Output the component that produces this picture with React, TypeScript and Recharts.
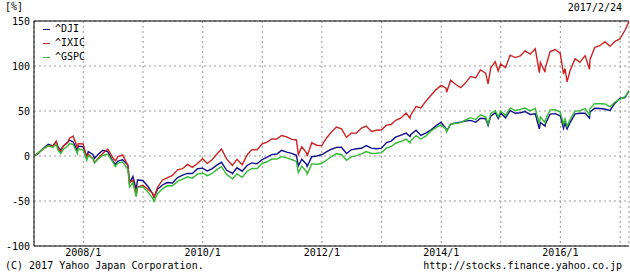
import React from 'react';
import { LineChart, Line, XAxis, YAxis, CartesianGrid, ReferenceLine } from 'recharts';

const dates = [
  '2007-03-05','2007-03-30','2007-04-30','2007-05-31','2007-06-29','2007-07-19','2007-07-31','2007-08-16','2007-08-31','2007-09-28',
  '2007-10-09','2007-10-31','2007-11-26','2007-11-30','2007-12-31','2008-01-22','2008-01-31','2008-02-29','2008-03-10','2008-03-31',
  '2008-04-30','2008-05-30','2008-06-30','2008-07-15','2008-07-31','2008-08-29','2008-09-30','2008-10-10','2008-10-31','2008-11-20',
  '2008-11-28','2008-12-31','2009-01-30','2009-02-27','2009-03-09','2009-03-31','2009-04-30','2009-05-29','2009-06-30','2009-07-31',
  '2009-08-31','2009-09-30','2009-10-30','2009-11-30','2009-12-31','2010-01-29','2010-02-26','2010-03-31','2010-04-26','2010-05-28',
  '2010-06-30','2010-07-02','2010-07-30','2010-08-31','2010-09-30','2010-10-29','2010-11-30','2010-12-31','2011-01-31','2011-02-28',
  '2011-03-31','2011-04-29','2011-05-31','2011-06-30','2011-07-29','2011-08-10','2011-08-31','2011-09-30','2011-10-03','2011-10-31',
  '2011-11-30','2011-12-30','2012-01-31','2012-02-29','2012-03-30','2012-04-30','2012-05-31','2012-06-29','2012-07-31','2012-08-31',
  '2012-09-28','2012-10-31','2012-11-30','2012-12-31','2013-01-31','2013-02-28','2013-03-28','2013-04-30','2013-05-31','2013-06-24',
  '2013-06-28','2013-07-31','2013-08-30','2013-09-30','2013-10-31','2013-11-29','2013-12-31','2014-01-31','2014-02-03','2014-02-28',
  '2014-03-31','2014-04-30','2014-05-30','2014-06-30','2014-07-31','2014-08-29','2014-09-30','2014-10-15','2014-10-31','2014-11-28',
  '2014-12-16','2014-12-31','2015-01-30','2015-02-27','2015-03-31','2015-04-30','2015-05-29','2015-06-30','2015-07-31','2015-08-25',
  '2015-08-31','2015-09-29','2015-09-30','2015-10-30','2015-11-30','2015-12-31','2016-01-20','2016-01-29','2016-02-11','2016-02-29',
  '2016-03-31','2016-04-29','2016-05-31','2016-06-27','2016-06-30','2016-07-29','2016-08-31','2016-09-30','2016-10-31','2016-11-30',
  '2016-12-30','2017-01-31','2017-02-24',
];

const dji = [
  0, 2.5, 8.4, 13.1, 11.3, 16.2, 9.6, 6.6, 10.9, 15.3,
  17.6, 15.6, 5.8, 11.0, 10.1, -0.7, 5.0, 1.8, -2.6, 1.8,
  6.4, 4.9, -5.8, -9.0, -5.6, -4.2, -10.0, -29.9, -22.6, -37.3,
  -26.7, -27.2, -33.6, -41.4, -45.7, -36.9, -32.2, -29.5, -29.9, -23.9,
  -21.2, -19.4, -19.4, -14.1, -13.5, -16.5, -14.3, -9.9, -7.0, -15.9,
  -18.9, -19.6, -13.1, -16.9, -10.5, -7.7, -8.7, -3.9, -1.3, 1.5,
  2.2, 6.3, 4.3, 3.0, 0.8, -11.0, -3.6, -9.4, -11.6, -0.8,
  0.0, 1.4, 4.8, 7.5, 9.6, 9.7, 2.8, 6.9, 8.0, 8.6,
  11.5, 8.7, 8.1, 8.7, 15.0, 16.6, 21.0, 23.2, 25.4, 21.7,
  23.7, 28.6, 22.9, 25.6, 29.0, 33.5, 37.6, 30.3, 27.6, 35.5,
  36.6, 37.6, 38.7, 39.6, 37.5, 41.9, 41.4, 34.0, 44.3, 48.0,
  41.6, 47.9, 42.4, 50.5, 47.5, 48.1, 49.5, 46.2, 46.8, 30.0,
  37.2, 33.2, 35.1, 46.6, 47.1, 44.6, 30.8, 36.6, 30.0, 37.1,
  46.8, 47.5, 47.6, 42.2, 48.8, 53.0, 52.7, 51.9, 50.6, 58.7,
  64.0, 64.8, 72.8,
];

const ixic = [
  0, 3.5, 7.9, 11.3, 11.2, 16.2, 8.8, 4.7, 10.9, 15.4,
  19.8, 22.2, 8.5, 13.7, 13.3, -2.1, 2.1, -2.9, -7.3, -2.6,
  3.1, 7.8, -2.0, -5.3, -0.6, 1.2, -10.6, -29.5, -26.5, -43.8,
  -34.4, -32.6, -36.9, -41.1, -45.8, -34.7, -26.6, -24.2, -21.6, -15.4,
  -14.1, -9.3, -12.6, -8.3, -3.0, -8.2, -4.4, 2.5, 7.8, -3.5,
  -9.9, -10.6, -3.6, -9.7, 1.2, 7.1, 6.8, 13.4, 15.4, 18.9,
  18.8, 22.8, 21.2, 18.5, 17.8, 1.8, 10.2, 3.2, -0.2, 14.7,
  12.0, 11.3, 20.3, 26.8, 32.1, 30.2, 20.8, 25.4, 25.6, 31.1,
  33.2, 27.2, 28.6, 29.1, 34.3, 35.0, 39.7, 42.3, 47.7, 41.9,
  45.4, 55.0, 53.4, 61.2, 67.5, 73.5, 78.5, 75.4, 70.8, 84.1,
  79.4, 75.9, 81.3, 88.4, 86.8, 95.7, 92.0, 80.1, 97.9, 104.8,
  94.4, 102.4, 98.1, 112.1, 109.4, 111.2, 116.7, 113.1, 119.1, 92.6,
  104.1, 93.0, 97.4, 116.0, 118.3, 114.0, 91.1, 97.2, 82.3, 94.8,
  108.1, 104.1, 111.5, 96.3, 107.0, 120.6, 122.8, 127.0, 121.8, 127.5,
  130.0, 140.0, 149.8,
];

const gspc = [
  0, 3.4, 7.9, 11.4, 9.4, 13.0, 5.9, 2.7, 7.3, 11.1,
  13.9, 12.7, 2.4, 7.8, 6.8, -4.7, 0.4, -3.1, -7.4, -3.7,
  0.9, 1.9, -6.8, -11.6, -7.8, -6.6, -15.1, -34.6, -29.5, -45.3,
  -34.8, -34.3, -39.9, -46.5, -50.7, -41.9, -36.5, -33.1, -33.1, -28.2,
  -25.7, -23.1, -24.6, -20.2, -18.9, -21.8, -19.7, -14.9, -11.8, -20.7,
  -25.0, -25.6, -19.8, -23.7, -17.0, -13.9, -14.0, -8.4, -6.4, -3.4,
  -3.5, -0.7, -2.1, -3.9, -6.0, -18.4, -11.3, -17.7, -20.0, -8.8,
  -9.2, -8.4, -4.5, -0.6, 2.5, 1.7, -4.7, -0.9, 0.4, 2.4,
  4.9, 2.8, 3.1, 3.8, 9.0, 10.3, 14.2, 16.3, 18.7, 14.5,
  16.9, 22.7, 18.9, 22.4, 27.9, 31.4, 34.5, 29.8, 26.8, 35.3,
  36.2, 37.1, 40.0, 42.6, 40.5, 45.8, 43.5, 35.5, 46.9, 50.5,
  43.6, 49.9, 45.2, 53.2, 50.5, 51.8, 53.3, 50.1, 53.1, 36.0,
  43.5, 37.1, 39.7, 51.3, 51.4, 48.8, 35.3, 41.2, 33.1, 40.6,
  49.9, 50.3, 52.6, 45.6, 52.8, 58.2, 58.0, 57.8, 54.7, 60.0,
  63.0, 65.9, 72.3,
];

const seriesNames = ['^DJI', '^IXIC', '^GSPC'];
const seriesColors = ['#10108a', '#cc2222', '#33bb33'];
const yTicks = [-100, -50, 0, 50, 100, 150];
const gridYears = [2008, 2009, 2010, 2011, 2012, 2013, 2014, 2015, 2016, 2017];
const labeledYears = [2008, 2010, 2012, 2014, 2016];
const startDate = '2007-03-05';
const endDate = '2017-02-24';
const dateLabel = '2017/2/24';
const unitLabel = '[%]';
const copyright = '(C) 2017 Yahoo Japan Corporation.';
const sourceUrl = 'http://stocks.finance.yahoo.co.jp';

const data = dates.map((d, i) => ({
  t: Date.parse(d),
  dji: dji[i],
  ixic: ixic[i],
  gspc: gspc[i],
}));

const xTicks = gridYears.map((y) => Date.parse(`${y}-01-01`));
const FONT = '"DejaVu Sans Mono", "Liberation Mono", monospace';

const fmtX = (v: number) => {
  const y = new Date(v).getUTCFullYear();
  return labeledYears.includes(y) ? `${y}/1` : '';
};

export default function App() {
  const textStyle: React.CSSProperties = {
    position: 'absolute',
    fontFamily: FONT,
    fontSize: 10,
    color: '#000',
    lineHeight: '12px',
    whiteSpace: 'pre',
  };
  return (
    <div style={{ position: 'absolute', left: 0, top: 0, width: 630, height: 273, background: '#fff', overflow: 'hidden' }}>
      <LineChart
        width={630}
        height={273}
        data={data}
        margin={{ top: 21, right: 1, bottom: 13, left: 0 }}
      >
        <CartesianGrid stroke="#999" strokeDasharray="2 3" />
        <XAxis
          dataKey="t"
          type="number"
          scale="linear"
          domain={[Date.parse(startDate), Date.parse(endDate)]}
          ticks={xTicks}
          tickFormatter={fmtX}
          interval={0}
          height={14}
          tickSize={0}
          tickMargin={3}
          stroke="#000"
          tick={{ fill: '#000', fontFamily: FONT, fontSize: 10 }}
          allowDataOverflow
        />
        <YAxis
          type="number"
          domain={[-100, 150]}
          ticks={yTicks}
          interval={0}
          width={34}
          tickSize={0}
          tickMargin={4}
          stroke="#000"
          tick={{ fill: '#000', fontFamily: FONT, fontSize: 10 }}
          allowDataOverflow
        />
        <ReferenceLine y={150} stroke="#000" />
        <Line type="linear" dataKey="dji" stroke={seriesColors[0]} strokeWidth={1.4} dot={false} isAnimationActive={false} />
        <Line type="linear" dataKey="ixic" stroke={seriesColors[1]} strokeWidth={1.4} dot={false} isAnimationActive={false} />
        <Line type="linear" dataKey="gspc" stroke={seriesColors[2]} strokeWidth={1.4} dot={false} isAnimationActive={false} />
      </LineChart>
      <div style={{ ...textStyle, left: 5, top: 1 }}>{unitLabel}</div>
      <div style={{ ...textStyle, right: 8, top: 2 }}>{dateLabel}</div>
      <div style={{ ...textStyle, left: 5, top: 260 }}>{copyright}</div>
      <div style={{ ...textStyle, right: 8, top: 260 }}>{sourceUrl}</div>
      {seriesNames.map((n, i) => (
        <div key={n} style={{ ...textStyle, left: 43, top: 23 + i * 14, display: 'flex', alignItems: 'center' }}>
          <span style={{ display: 'inline-block', width: 7, height: 1, background: seriesColors[i], marginRight: 5 }} />
          <span>{n}</span>
        </div>
      ))}
    </div>
  );
}
